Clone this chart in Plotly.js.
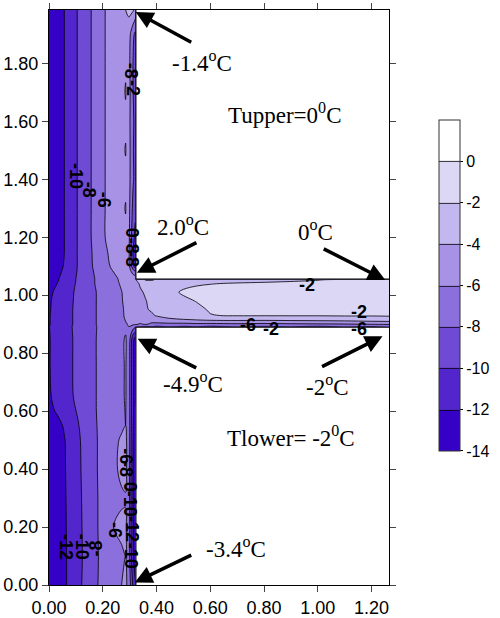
<!DOCTYPE html>
<html><head><meta charset="utf-8">
<script src="https://cdn.plot.ly/plotly-3.0.1.min.js"></script>
<style>html,body{margin:0;padding:0;background:#fff;} #chart{width:500px;height:618px;}</style>
</head><body><div id="chart"></div>
<script>
// grid columns (m): wall part and slab part
const xWall = [0, 0.03, 0.057, 0.08, 0.105, 0.13, 0.157, 0.18, 0.209, 0.24, 0.27, 0.285, 0.297, 0.305, 0.313, 0.321];
const xSlab = [0.3235, 0.34, 0.36, 0.38, 0.40, 0.45, 0.50, 0.55, 0.60, 0.70, 0.80, 0.90, 1.00, 1.10, 1.20, 1.265];
// grid rows (m)
const yRows = [0, 0.1, 0.2, 0.3, 0.4, 0.5, 0.55, 0.6, 0.65, 0.75, 0.85, 0.889, 0.8915, 0.90, 0.91, 0.92, 0.93, 0.95, 0.98, 1.01, 1.04, 1.053, 1.0555, 1.08, 1.1, 1.15, 1.2, 1.3, 1.4, 1.5, 1.6, 1.7, 1.8, 1.9, 1.984];
// temperatures (degC) in the wall, one row per yRows entry
const zWall = [
 [-13.6,-12.95,-12.3,-11.5,-10.6,-9.7,-8.8,-8.05,-7.3,-6.6,-6.0,-5.7,-6.5,-8.5,-10.5,-11.8],
 [-13.6,-12.95,-12.3,-11.5,-10.65,-9.8,-8.85,-8.1,-7.35,-6.5,-6.2,-6.0,-6.9,-9.6,-11.9,-12.9],
 [-13.6,-12.9,-12.25,-11.45,-10.6,-9.75,-8.8,-8.05,-7.25,-6.0,-5.7,-5.8,-6.8,-9.8,-12.0,-13.0],
 [-13.6,-12.9,-12.2,-11.45,-10.55,-9.7,-8.8,-8.05,-7.3,-6.6,-6.2,-6.1,-7.0,-10.0,-12.2,-13.1],
 [-13.6,-12.9,-12.15,-11.4,-10.5,-9.6,-8.8,-8.0,-7.2,-6.3,-5.7,-5.6,-6.9,-10.0,-12.2,-13.1],
 [-13.5,-12.8,-12.1,-11.3,-10.4,-9.55,-8.75,-8.0,-7.3,-6.4,-5.8,-5.7,-6.8,-9.8,-12.0,-13.0],
 [-13.2,-12.6,-11.8,-11.0,-10.2,-9.4,-8.65,-7.95,-7.35,-6.8,-6.25,-6.0,-6.8,-9.6,-11.9,-12.9],
 [-12.5,-11.8,-11.1,-10.5,-9.9,-9.2,-8.5,-7.9,-7.35,-6.8,-6.25,-5.95,-6.8,-9.5,-11.8,-12.8],
 [-12.2,-11.5,-10.9,-10.25,-9.65,-9.05,-8.45,-7.9,-7.35,-6.8,-6.2,-5.9,-6.8,-9.5,-11.8,-12.8],
 [-12.1,-11.4,-10.8,-10.2,-9.6,-9.05,-8.45,-7.9,-7.4,-6.8,-6.2,-5.9,-6.8,-9.5,-11.8,-12.8],
 [-12.1,-11.4,-10.8,-10.2,-9.6,-9.05,-8.45,-7.9,-7.4,-6.8,-6.2,-5.9,-6.6,-9.0,-11.5,-12.6],
 [-12.05,-11.35,-10.75,-10.15,-9.55,-9.0,-8.45,-7.95,-7.4,-6.85,-6.4,-6.2,-6.2,-6.6,-7.3,-8.0],
 [-12.05,-11.35,-10.75,-10.15,-9.55,-9.0,-8.45,-7.95,-7.4,-6.85,-6.4,-6.15,-6.0,-6.1,-6.5,-7.0],
 [-12.1,-11.4,-10.8,-10.2,-9.6,-9.05,-8.45,-7.9,-7.35,-6.85,-6.35,-6.1,-5.9,-5.8,-5.8,-5.8],
 [-12.1,-11.4,-10.8,-10.2,-9.6,-9.05,-8.45,-7.9,-7.35,-6.8,-6.3,-6.0,-5.75,-5.6,-5.55,-5.5],
 [-12.1,-11.4,-10.8,-10.2,-9.6,-9.05,-8.45,-7.9,-7.35,-6.8,-6.25,-5.9,-5.6,-5.45,-5.35,-5.3],
 [-12.1,-11.4,-10.8,-10.2,-9.6,-9.05,-8.45,-7.9,-7.35,-6.8,-6.2,-5.85,-5.5,-5.3,-5.2,-5.1],
 [-12.15,-11.45,-10.85,-10.2,-9.6,-9.05,-8.45,-7.9,-7.35,-6.8,-6.2,-5.8,-5.45,-5.25,-5.1,-4.95],
 [-12.2,-11.5,-10.9,-10.25,-9.65,-9.05,-8.45,-7.9,-7.35,-6.75,-6.1,-5.7,-5.35,-5.15,-4.95,-4.8],
 [-12.4,-11.6,-11.0,-10.3,-9.7,-9.1,-8.45,-7.9,-7.3,-6.7,-6.05,-5.6,-5.2,-5.0,-4.8,-4.6],
 [-12.9,-12.0,-11.2,-10.5,-9.8,-9.1,-8.35,-7.75,-7.1,-6.5,-5.8,-5.4,-5.1,-4.9,-4.7,-4.5],
 [-13.0,-12.2,-11.4,-10.6,-9.85,-9.1,-8.35,-7.75,-7.1,-6.4,-5.7,-5.3,-5.0,-4.8,-4.5,-4.2],
 [-13.0,-12.2,-11.4,-10.6,-9.85,-9.1,-8.35,-7.75,-7.1,-6.4,-5.7,-5.3,-5.0,-4.8,-4.5,-4.3],
 [-13.2,-12.6,-11.6,-10.8,-9.95,-9.1,-8.25,-7.6,-6.8,-6.0,-5.1,-4.7,-4.9,-5.8,-6.8,-7.5],
 [-13.4,-12.8,-11.85,-11.0,-10.0,-9.1,-8.15,-7.45,-6.55,-5.6,-4.8,-4.5,-5.3,-7.5,-9.5,-11.0],
 [-13.5,-12.9,-12.0,-11.0,-10.0,-9.05,-8.1,-7.3,-6.3,-5.3,-4.6,-4.4,-5.6,-8.0,-10.0,-11.5],
 [-13.6,-12.9,-12.0,-11.0,-10.0,-9.0,-8.0,-7.1,-6.0,-5.1,-4.6,-4.4,-5.5,-7.6,-9.5,-10.5],
 [-13.6,-12.9,-12.0,-11.0,-10.0,-9.0,-8.0,-7.1,-6.0,-5.1,-4.5,-3.9,-5.3,-7.0,-8.6,-9.5],
 [-13.6,-12.9,-12.0,-11.0,-10.0,-9.0,-8.0,-7.1,-6.0,-5.1,-4.6,-4.4,-5.2,-6.6,-7.8,-8.6],
 [-13.6,-12.9,-12.0,-11.0,-10.0,-9.0,-8.0,-7.1,-6.0,-5.1,-4.5,-3.9,-5.1,-6.6,-7.9,-8.7],
 [-13.6,-12.9,-12.0,-11.0,-10.0,-9.0,-8.0,-7.1,-6.0,-5.1,-4.6,-4.3,-5.2,-6.7,-7.8,-8.5],
 [-13.6,-12.9,-12.0,-11.0,-10.0,-9.0,-8.0,-7.1,-6.0,-5.1,-4.5,-3.9,-5.0,-6.6,-8.0,-8.8],
 [-13.6,-12.9,-12.0,-11.0,-10.0,-9.0,-8.0,-7.1,-6.0,-5.1,-4.6,-4.2,-5.3,-6.8,-8.1,-8.9],
 [-13.6,-12.9,-12.0,-11.0,-10.0,-9.0,-8.0,-7.1,-6.0,-5.1,-4.5,-4.3,-5.0,-6.4,-7.6,-8.4],
 [-13.6,-12.9,-12.0,-11.0,-10.0,-9.0,-8.0,-7.1,-6.0,-5.1,-4.4,-4.0,-3.6,-3.5,-3.8,-4.6]
];
// temperatures (degC) in the slab; null where the row lies outside the slab
const zSlab = [
 null, null, null, null, null, null, null, null, null, null, null, null,
 [-7.0,-7.8,-8.2,-7.9,-8.3,-7.8,-8.2,-7.9,-8.3,-7.8,-8.2,-7.9,-8.3,-7.8,-8.1,-7.6],
 [-5.8,-6.2,-5.7,-6.4,-6.6,-6.5,-6.6,-6.4,-6.5,-6.3,-6.5,-6.3,-6.2,-6.1,-5.9,-5.8],
 [-5.5,-5.4,-5.5,-5.5,-5.3,-5.0,-4.8,-4.6,-4.5,-4.4,-4.5,-4.4,-4.3,-4.2,-4.0,-3.9],
 [-5.3,-5.1,-4.9,-4.6,-4.4,-4.0,-3.6,-3.3,-3.0,-2.9,-2.9,-2.8,-2.8,-2.7,-2.7,-2.6],
 [-5.1,-4.8,-4.5,-4.2,-3.9,-3.4,-3.0,-2.55,-2.05,-1.9,-1.9,-1.9,-1.9,-1.85,-1.85,-1.8],
 [-4.9,-4.6,-4.1,-3.9,-3.6,-3.0,-2.6,-2.25,-1.9,-1.65,-1.55,-1.5,-1.45,-1.4,-1.35,-1.3],
 [-4.75,-4.4,-4.05,-3.7,-3.3,-2.7,-2.25,-1.95,-1.7,-1.45,-1.35,-1.3,-1.2,-1.1,-1.0,-0.9],
 [-4.55,-4.2,-3.8,-3.3,-2.9,-2.3,-1.85,-1.6,-1.45,-1.3,-1.2,-1.1,-1.0,-0.9,-0.8,-0.7],
 [-4.4,-3.8,-3.2,-2.8,-2.6,-2.4,-2.3,-2.15,-2.05,-1.9,-1.8,-1.75,-1.65,-1.45,-1.15,-0.9],
 [-4.2,-2.6,-1.9,-1.9,-2.1,-2.4,-2.5,-2.6,-2.6,-2.5,-2.4,-2.2,-2.05,-1.8,-1.4,-1.1],
 null, null, null, null, null, null, null, null, null, null, null, null, null
];
// outline of the T-shaped section (m)
const outlineX = [0.3232, 0.3232, 1.265, null, 1.265, 0.3232, 0.3232];
const outlineY = [1.984, 1.0552, 1.0552, null, 0.8893, 0.8893, 0];
// contour levels and band colours
const levels = [-14, -12, -10, -8, -6, -4, -2, 0];
const bandColors = ['#3501c7', '#5326cd', '#6f4ad5', '#8b6fdd', '#a792e5', '#c2b7ee', '#dcd7f5', '#ffffff'];
const xTicks = [0, 0.2, 0.4, 0.6, 0.8, 1.0, 1.2];
const yTicks = [0, 0.2, 0.4, 0.6, 0.8, 1.0, 1.2, 1.4, 1.6, 1.8];
// contour labels as printed on the picture: [x, y, text, angle]
const contourLabels = [
  [0.0996, 1.412, '-10', 90], [0.150, 1.363, '-8', 90], [0.206, 1.328, '-6', 90],
  [0.063, 0.131, '-12', 90], [0.124, 0.131, '-10', 90], [0.175, 0.126, '-8', -90],
  [0.245, 0.19, '-6', 90],
  [0.308, 1.775, '-8', 90], [0.312, 1.715, '-2', 90],
  [0.309, 1.215, '0', 90], [0.309, 1.170, '-8', 90], [0.309, 1.125, '-8', 90],
  [0.286, 0.445, '-6', 90], [0.287, 0.400, '-8', 90], [0.300, 0.340, '0', 90],
  [0.302, 0.280, '-10', 90], [0.307, 0.195, '-12', 90], [0.306, 0.100, '-10', 90],
  [0.960, 1.035, '-2', 0], [0.742, 0.896, '-6', 0], [0.827, 0.884, '-2', 0],
  [1.154, 0.943, '-2', 0], [1.154, 0.883, '-6', 0]
];

const xAll = xWall.concat(xSlab);
const zAll = yRows.map((y, i) => zWall[i].concat(zSlab[i] ? zSlab[i] : xSlab.map(() => null)));

const sans = 'Liberation Sans, Arial, sans-serif';
const serif = 'Liberation Serif, Times New Roman, serif';

const contour = {
  type: 'contour', x: xAll, y: yRows, z: zAll,
  connectgaps: false, autocontour: false, zauto: false, zmin: -14, zmax: 2,
  contours: {start: -12, end: 0, size: 2, coloring: 'fill', showlines: true, showlabels: false},
  line: {color: '#000', width: 0.8, smoothing: 1},
  colorscale: bandColors.map((c, i) => [i / (bandColors.length - 1), c]),
  hoverinfo: 'skip',
  colorbar: {
    x: 1.1466, xanchor: 'left', xpad: 0,
    y: 0.521, yanchor: 'middle', len: 0.576, lenmode: 'fraction', ypad: 0,
    thickness: 21, thicknessmode: 'pixels',
    outlinewidth: 1, outlinecolor: '#333',
    ticks: 'outside', ticklen: 3, tickcolor: '#000',
    tickvals: levels, ticktext: levels.map(String),
    tickfont: {family: sans, size: 16, color: '#000'}
  }
};
const outline = {type: 'scatter', mode: 'lines', x: outlineX, y: outlineY,
  line: {color: '#000', width: 1.2}, hoverinfo: 'skip', showlegend: false};

function arrow(x, y, ax, ay) {
  return {x, y, xref: 'x', yref: 'y', ax, ay, text: '', showarrow: true,
    arrowhead: 2, arrowsize: 1, arrowwidth: 3.5, arrowcolor: '#000', standoff: 0};
}
function label(x, y, text) {
  return {x, y, xref: 'x', yref: 'y', text, showarrow: false,
    font: {family: serif, size: 23, color: '#000'}};
}
const lineLabels = contourLabels.map(([x, y, t, a]) => ({
  x, y, xref: 'x', yref: 'y', text: t, textangle: a, showarrow: false, borderpad: 0,
  font: {family: sans, size: 18, color: '#000', weight: 'bold'}
}));

const layout = {
  width: 500, height: 618,
  margin: {l: 49, r: 103, t: 10, b: 33},
  paper_bgcolor: '#fff', plot_bgcolor: '#fff',
  showlegend: false,
  xaxis: {range: [0, 1.265], tickvals: xTicks, tickformat: '.2f', ticks: 'outside', ticklen: 6,
    showline: true, linecolor: '#000', linewidth: 1, mirror: 'ticks', showgrid: false, zeroline: false,
    tickfont: {family: sans, size: 18, color: '#000'}},
  yaxis: {range: [0, 1.984], tickvals: yTicks, tickformat: '.2f', ticks: 'outside', ticklen: 6,
    showline: true, linecolor: '#000', linewidth: 1, mirror: 'ticks', showgrid: false, zeroline: false,
    tickfont: {family: sans, size: 18, color: '#000'}},
  annotations: lineLabels.concat([
    arrow(0.3225, 1.977, 57, 31), label(0.57, 1.805, '-1.4<sup>o</sup>C'),
    arrow(0.327, 1.077, 61, -31), label(0.498, 1.242, '2.0<sup>o</sup>C'),
    arrow(1.251, 1.052, -63, -32), label(0.991, 1.224, '0<sup>o</sup>C'),
    arrow(0.33, 0.850, 60, 30), label(0.535, 0.70, '-4.9<sup>o</sup>C'),
    arrow(1.241, 0.858, -62, 31), label(1.035, 0.689, '-2<sup>o</sup>C'),
    arrow(0.319, 0.009, 58, -28), label(0.697, 0.131, '-3.4<sup>o</sup>C'),
    label(0.875, 1.628, 'Tupper=0<sup>0</sup>C'),
    label(0.90, 0.511, 'Tlower= -2<sup>0</sup>C')
  ])
};
Plotly.newPlot('chart', [contour, outline], layout, {staticPlot: true});
</script></body></html>
